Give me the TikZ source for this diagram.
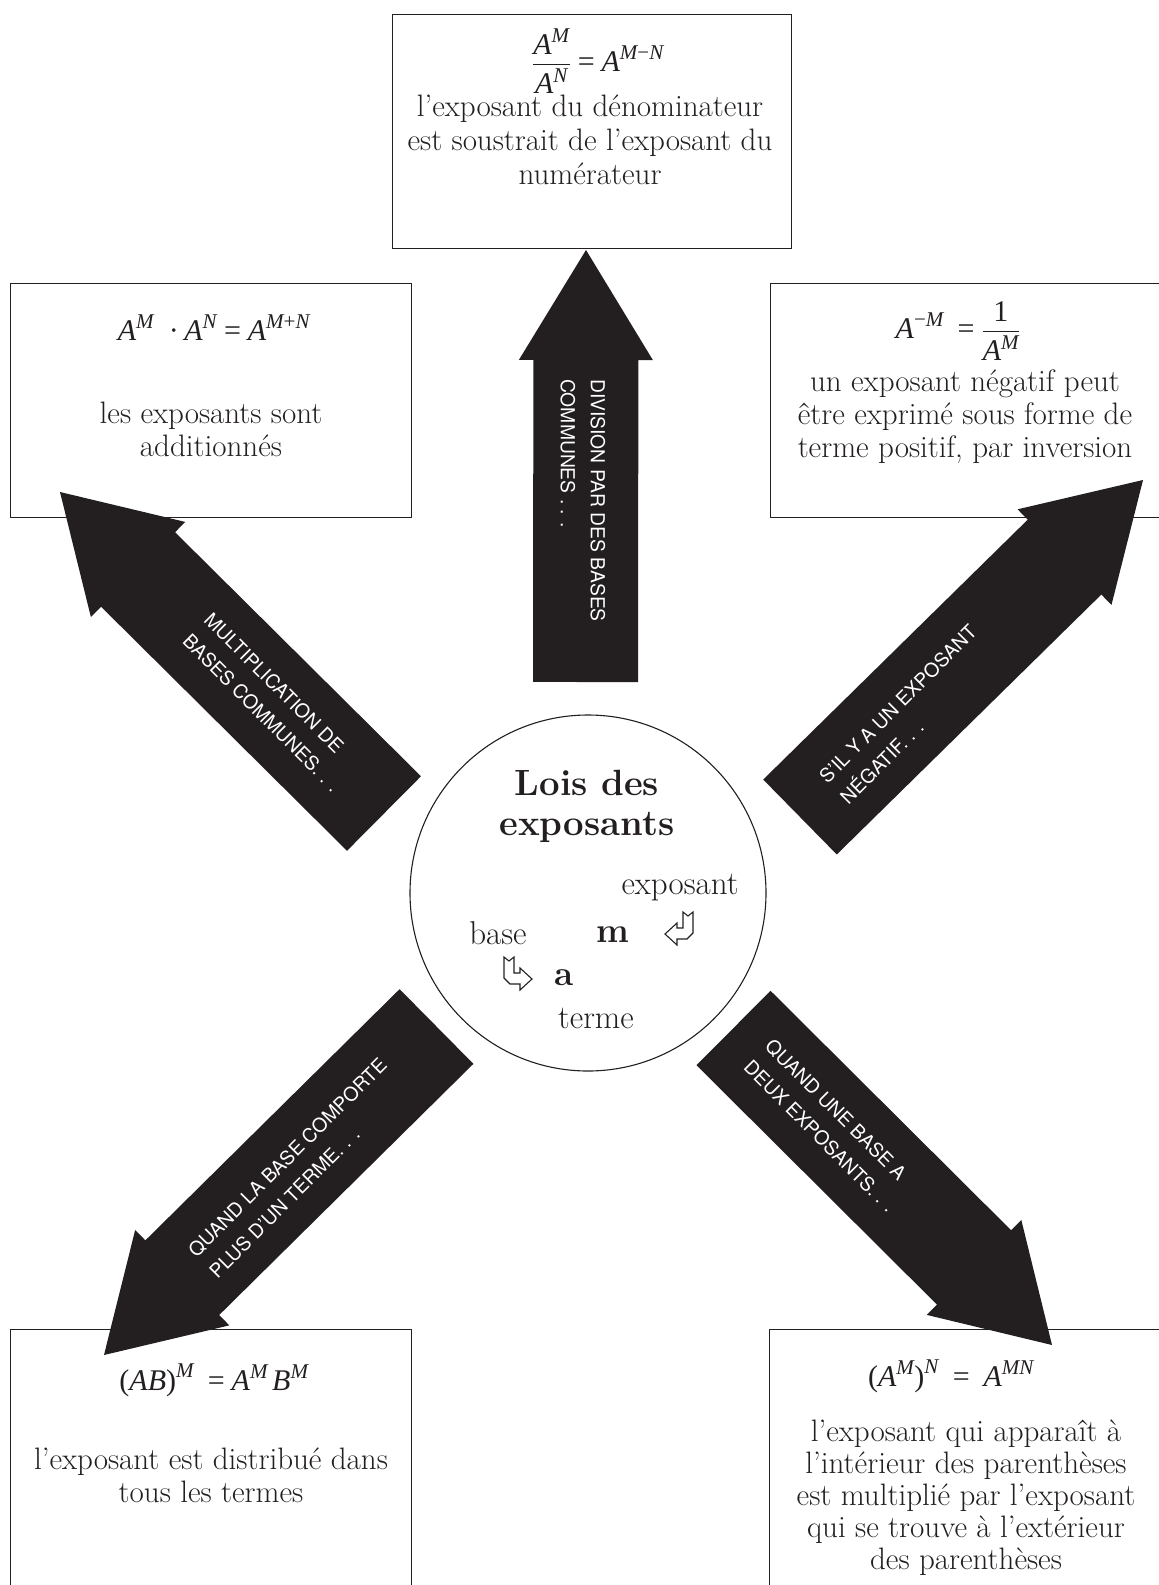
\documentclass[tikz,border=0pt]{standalone}
\usepackage{amsmath}
\usepackage{fontspec}
\newfontfamily\heros{TeX Gyre Heros}
\newfontfamily\tms{Liberation Serif}
\newcommand\mv[1]{\text{\tms\itshape #1}}
\newcommand\mo[1]{\text{\tms #1}}
\usetikzlibrary{calc}
\definecolor{ink}{RGB}{35,31,32}
\newcommand\fatarrow[2]{%
  \coordinate (#1h) at ($(#2)!110pt!(#1)$);
  \fill[ink] ($(#1)!52.5pt!90:(#2)$) -- ($(#1h)!52.5pt!90:(#2)$) -- ($(#1h)!67pt!90:(#2)$) -- (#2)
    -- ($(#1h)!67pt!-90:(#2)$) -- ($(#1h)!52.5pt!-90:(#2)$) -- ($(#1)!52.5pt!-90:(#2)$) -- cycle;}
\begin{document}
\begin{tikzpicture}[x=1pt,y=-1pt,
  box/.style={draw=ink, line width=1.4pt, inner sep=0pt, anchor=north west},
  lbl/.style={text=white, font=\heros\fontsize{19.3}{30}\selectfont, align=left, inner sep=0pt, anchor=west},
  txt/.style={text=ink, font=\fontsize{31}{35}\selectfont, inner sep=0pt, anchor=base},
  ctxt/.style={text=ink, font=\fontsize{33}{38}\selectfont, inner sep=0pt, anchor=base},
  eqn/.style={text=ink, font=\fontsize{30}{35}\selectfont, inner sep=0pt, anchor=base},
  ttl/.style={text=ink, font=\bfseries\fontsize{36.5}{40}\selectfont, inner sep=0pt, anchor=base},
  bld/.style={text=ink, font=\bfseries\fontsize{35}{40}\selectfont, inner sep=0pt, anchor=base},
  bentarrow/.pic={\draw[ink, line width=1.1pt, line join=miter, fill=white]
    (0,0) -- (5,4) -- (10,0) -- (10,16) -- (16,16) -- (16,11) -- (28,22) -- (16,33) -- (16,27) -- (6,27) -- (0,21) -- cycle;}
]
\useasboundingbox (0,0) rectangle (1159,1585);
\clip (0,0) rectangle (1159,1585);
\fill[white] (0,0) rectangle (1159,1585);

% boxes
\node[box, minimum width=399pt, minimum height=234pt] (top) at (392,14) {};
\node[box, minimum width=401pt, minimum height=234pt] (lt) at (10,283) {};
\node[box, minimum width=395pt, minimum height=234pt] (rt) at (770,283) {};
\node[box, minimum width=401pt, minimum height=270pt] (lb) at (10,1329) {};
\node[box, minimum width=395pt, minimum height=270pt] (rb) at (769,1329) {};

% centre circle
\node[circle, draw=ink, line width=1.1pt, minimum size=356pt, inner sep=0pt] (c) at (588,893) {};

% arrows
\coordinate (upA) at (585.5,682);  \coordinate (upB) at (586,250);
\coordinate (nwA) at (384,813.5);  \coordinate (nwB) at (60,492);
\coordinate (neA) at (800,817);    \coordinate (neB) at (1143,480);
\coordinate (swA) at (436.5,1026.5); \coordinate (swB) at (104,1355);
\coordinate (seA) at (733.5,1028); \coordinate (seB) at (1052,1345);
\fatarrow{upA}{upB}
\fatarrow{nwA}{nwB}
\fatarrow{neA}{neB}
\fatarrow{swA}{swB}
\fatarrow{seA}{seB}

% arrow labels
\node[lbl, rotate=-90] (upT) at (583,379) {DIVISION PAR DES BASES\\COMMUNES . . .};
\node[lbl, rotate=-45] (nwT) at (197,627) {MULTIPLICATION DE\\BASES COMMUNES. . .};
\node[lbl, rotate=45] (neT) at (833,790) {S’IL Y A UN EXPOSANT\\NÉGATIF. . .};
\node[lbl, rotate=45] (swT) at (202,1264) {QUAND LA BASE COMPORTE\\PLUS D’UN TERME. . .};
\node[lbl, rotate=-45] (seT) at (758,1053) {QUAND UNE BASE A\\DEUX EXPOSANTS. . .};

% top box
\node[eqn] (e1) at (598,71) {$\dfrac{\mv{A}^{\mv{M}}}{\mv{A}^{\mv{N}}} \mathrel{\mo{=}} \mv{A}^{\mv{M}\mathbin{\mo{−}}\mv{N}}$};
\node[txt] (t1a) at (590,116) {l’exposant du dénominateur};
\node[txt] (t1b) at (590,150) {est soustrait de l’exposant du};
\node[txt] (t1c) at (590,184) {numérateur};

% left top box
\node[eqn] (e2) at (214,340) {$\mv{A}^{\mv{M}}\ \mathbin{\mo{·}} \mv{A}^{\mv{N}} \mathrel{\mo{=}} \mv{A}^{\mv{M}\mathbin{\mo{+}}\mv{N}}$};
\node[txt] (t2a) at (211,423) {les exposants sont};
\node[txt] (t2b) at (211,456) {additionnés};

% right top box
\node[eqn] (e3) at (958,338) {$\mv{A}^{\mo{−}\mv{M}}\;\mathrel{\mo{=}} \dfrac{\mo{1}}{\mv{A}^{\mv{M}}}$};
\node[txt] (t3a) at (965,391) {un exposant négatif peut};
\node[txt] (t3b) at (965,424) {être exprimé sous forme de};
\node[txt] (t3c) at (965,457) {terme positif, par inversion};

% bottom left box
\node[eqn] (e4) at (214,1390) {$\mo{(}\mv{AB}\mo{)}^{\mv{M}}\;\mathrel{\mo{=}} \mv{A}^{\mv{M}}\,\mv{B}^{\mv{M}}$};
\node[txt] (t4a) at (211,1469) {l’exposant est distribué dans};
\node[txt] (t4b) at (211,1502) {tous les termes};

% bottom right box
\node[eqn] (e5) at (951,1386) {$\mo{(}\mv{A}^{\mv{M}}\mo{)}^{\mv{N}}\;\mathrel{\mo{=}}\; \mv{A}^{\mv{MN}}$};
\node[txt] (t5a) at (966,1441) {l’exposant qui apparaît à};
\node[txt] (t5b) at (966,1473) {l’intérieur des parenthèses};
\node[txt] (t5c) at (966,1505) {est multiplié par l’exposant};
\node[txt] (t5d) at (966,1537) {qui se trouve à l’extérieur};
\node[txt] (t5e) at (966,1569) {des parenthèses};

% circle contents
\node[ttl] (ti1) at (587,795) {Lois des};
\node[ttl] (ti2) at (587,835) {exposants};
\node[ctxt] (lex) at (680,894) {exposant};
\node[ctxt] (lbase) at (498,944) {base};
\node[bld] (lm) at (613,942) {m};
\node[bld] (la) at (564,985) {a};
\node[ctxt] (lterme) at (596,1028) {terme};
\pic at (504,957) {bentarrow};
\pic[xscale=-1] at (693,912) {bentarrow};
\end{tikzpicture}
\end{document}
